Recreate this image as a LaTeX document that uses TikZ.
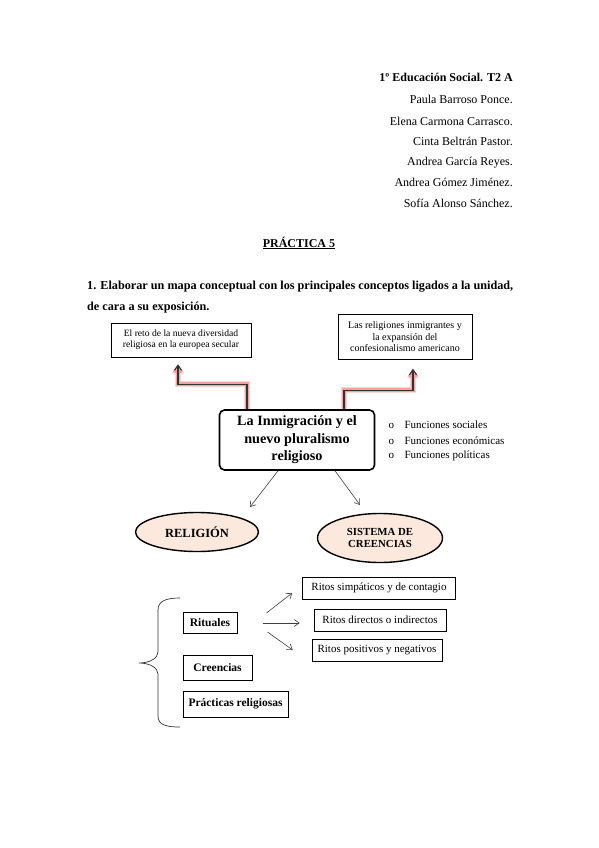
\documentclass[tikz,border=0pt]{standalone}
\usepackage{fontspec}
\setmainfont{Liberation Serif}
\usetikzlibrary{arrows.meta,positioning,shapes.geometric}

\definecolor{peach}{RGB}{252,232,220}
\definecolor{glowred}{RGB}{246,160,160}
\definecolor{glowpale}{RGB}{252,215,215}

\tikzset{
  head/.style={font=\fontsize{12}{14}\selectfont, anchor=base east, inner sep=0pt},
  plain/.style={draw, line width=0.6pt, align=center, inner sep=2pt},
  smallbox/.style={plain, font=\fontsize{9.6}{11.2}\selectfont},
  ritebox/.style={plain, font=\fontsize{11}{13}\selectfont, minimum height=22pt},
  kindbox/.style={plain, line width=0.9pt, font=\bfseries\fontsize{11.5}{13}\selectfont},
  blob/.style={ellipse, draw, line width=1.4pt, fill=peach, align=center,
    inner sep=0pt, font=\bfseries\fontsize{12.5}{14}\selectfont},
  glow/.style={-{Straight Barb[length=5pt,width=7pt]}, line width=1.1pt,
    draw=black!80, preaction={draw=glowpale, line width=6pt},
    preaction={draw=glowred, line width=3.5pt}},
  arr/.style={-{Straight Barb[length=5pt,width=7pt]}, line width=0.6pt, draw=black!75}
}

\begin{document}
\begin{tikzpicture}[x=1pt,y=-1pt]
  \useasboundingbox (0,0) rectangle (599,848);

  % Header
  \node[head, font=\bfseries\fontsize{12}{14}\selectfont] (curso) at (513,82) {1º Educación Social. T2 A};
  \node[head] (n1) at (513,104) {Paula Barroso Ponce.};
  \node[head] (n2) at (513,125) {Elena Carmona Carrasco.};
  \node[head] (n3) at (513,145) {Cinta Beltrán Pastor.};
  \node[head] (n4) at (513,165) {Andrea García Reyes.};
  \node[head] (n5) at (513,186) {Andrea Gómez Jiménez.};
  \node[head] (n6) at (513,207) {Sofía Alonso Sánchez.};

  \node[font=\bfseries\fontsize{12}{14}\selectfont, inner sep=0pt] (practica) at (299,243) {\underline{PRÁCTICA 5}};
  \node[font=\bfseries\fontsize{12.2}{14}\selectfont, anchor=west, inner sep=0pt] (enun1) at (87,287)
    {1. Elaborar un mapa conceptual con los principales conceptos ligados a la unidad,};
  \node[font=\bfseries\fontsize{12.2}{14}\selectfont, anchor=west, inner sep=0pt] (enun2) at (87,308)
    {de cara a su exposición.};

  % Top boxes
  \node[smallbox, minimum width=140pt, minimum height=34pt] (reto) at (181,340)
    {El reto de la nueva diversidad\\religiosa en la europea secular};
  \node[smallbox, minimum width=134pt, minimum height=45pt, font=\fontsize{10}{11.5}\selectfont] (confes) at (405,337)
    {Las religiones inmigrantes y\\la expansión del\\confesionalismo americano};

  % Central node
  \node[draw, line width=1.6pt, rounded corners=5pt, align=center,
    minimum width=155pt, minimum height=60pt, inner sep=1pt,
    font=\bfseries\fontsize{14.2}{17.5}\selectfont] (central) at (297,440)
    {La Inmigración y el\\nuevo pluralismo\\religioso};

  % Functions
  \node[anchor=west, font=\fontsize{11}{13}\selectfont] (fsoc) at (385,425) {o\hspace{10.5pt}Funciones sociales};
  \node[anchor=west, font=\fontsize{11}{13}\selectfont] (feco) at (385,440.5) {o\hspace{10.5pt}Funciones económicas};
  \node[anchor=west, font=\fontsize{11}{13}\selectfont] (fpol) at (385,456) {o\hspace{10.5pt}Funciones políticas};

  % Glowing connectors
  \draw[glow] ([xshift=-50pt]central.north) -- ++(0pt,25pt) -| ([xshift=-3pt,yshift=-7pt]reto.south);
  \draw[glow] ([xshift=47pt]central.north) -- ++(0pt,19pt) -| ([xshift=8pt,yshift=-9pt]confes.south);

  % Ellipses
  \node[blob, minimum width=123pt, minimum height=39pt] (religion) at (197,532) {RELIGIÓN};
  \node[blob, minimum width=125pt, minimum height=49pt, font=\bfseries\fontsize{10.8}{12}\selectfont] (sistema) at (380,538)
    {SISTEMA DE\\CREENCIAS};
  \coordinate (relend) at (250,507);
  \coordinate (sisend) at (360,505);
  \draw[arr] ([xshift=-19pt]central.south) -- (relend);
  \draw[arr] ([xshift=38pt]central.south) -- (sisend);

  % Rites
  \node[ritebox, minimum width=153pt] (simp) at (379,588) {Ritos simpáticos y de contagio};
  \node[ritebox, minimum width=132pt] (direc) at (380,620) {Ritos directos o indirectos};
  \node[ritebox, minimum width=130pt] (posit) at (377,650) {Ritos positivos y negativos};

  % Kinds
  \node[kindbox, minimum width=54pt, minimum height=21pt] (rit) at (210,623) {Rituales};
  \node[kindbox, minimum width=69pt, minimum height=25pt] (cre) at (217.5,667.5) {Creencias};
  \node[kindbox, minimum width=105pt, minimum height=26pt] (prac) at (235.5,704) {Prácticas religiosas};

  \draw[arr] ([xshift=29pt,yshift=10pt]rit.east) -- ([xshift=-10pt,yshift=-5pt]simp.west);
  \draw[arr] ([xshift=26pt]rit.east) -- ([xshift=-14pt]rit.east -| direc.west);
  \draw[arr] ([xshift=30pt,yshift=-9pt]rit.east) -- ([xshift=-19pt]posit.west);

  % Brace
  \draw[line width=0.7pt, draw=black!80]
    (180,598) .. controls (166,598) and (158,601) .. (158,610) -- (158,652)
    .. controls (158,658) and (150,663) .. (139,663)
    .. controls (150,663) and (158,668) .. (158,674) -- (158,716)
    .. controls (158,725) and (166,727) .. (180,727);
\end{tikzpicture}
\end{document}
